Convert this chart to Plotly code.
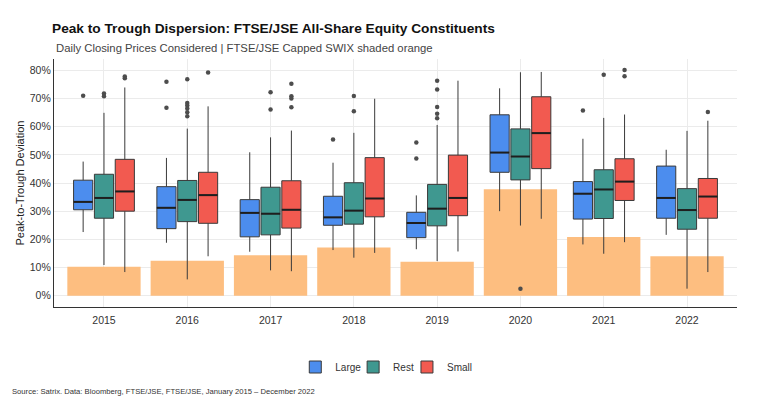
import plotly.graph_objects as go

years = [2015, 2016, 2017, 2018, 2019, 2020, 2021, 2022]
index_dispersion = [10.3, 12.4, 14.4, 17.1, 12.1, 37.8, 20.8, 14.0]

# Box statistics (percent)
large_q1 = [30.5, 23.8, 20.9, 25.0, 20.6, 43.8, 27.2, 27.5]
large_med = [33.3, 31.2, 29.4, 27.8, 25.8, 50.8, 36.2, 34.7]
large_q3 = [41.0, 38.7, 34.1, 35.3, 29.6, 64.2, 40.5, 46.0]
large_lo = [22.6, 18.8, 15.6, 16.2, 16.5, 30.0, 18.2, 21.6]
large_hi = [47.6, 48.9, 50.9, 47.2, 35.6, 73.6, 55.7, 51.8]
large_out_year = [2015, 2016, 2016, 2018, 2019, 2019, 2021]
large_out_val = [71.0, 75.9, 66.7, 55.4, 54.4, 48.7, 65.7]

rest_q1 = [27.5, 26.3, 21.6, 25.4, 24.8, 41.1, 27.4, 23.6]
rest_med = [34.7, 34.0, 29.1, 30.2, 30.9, 49.4, 37.7, 30.4]
rest_q3 = [43.1, 40.9, 38.5, 40.1, 39.5, 59.2, 44.7, 38.0]
rest_lo = [10.9, 5.8, 9.0, 13.5, 12.3, 24.9, 14.9, 2.5]
rest_hi = [64.9, 59.3, 56.2, 57.8, 60.6, 79.3, 63.1, 58.5]
rest_out_year = [2015, 2015, 2016, 2016, 2016, 2016, 2016, 2016, 2017, 2017,
                 2018, 2018, 2019, 2019, 2019, 2019, 2019, 2020, 2021]
rest_out_val = [71.8, 70.8, 76.8, 68.4, 67.5, 66.4, 65.1, 63.7, 72.2, 66.1,
                70.9, 65.5, 76.3, 73.2, 67.0, 64.6, 63.0, 2.5, 78.4]

small_q1 = [30.0, 25.7, 24.0, 28.0, 28.4, 45.1, 33.8, 27.5]
small_med = [37.0, 35.7, 30.5, 34.5, 34.7, 57.7, 40.5, 35.2]
small_q3 = [48.4, 43.8, 40.8, 49.0, 49.9, 70.6, 48.6, 41.6]
small_lo = [8.4, 14.0, 8.7, 15.2, 15.7, 27.3, 19.0, 8.4]
small_hi = [73.9, 67.2, 58.6, 69.9, 76.3, 79.4, 64.3, 62.1]
small_out_year = [2015, 2015, 2016, 2017, 2017, 2017, 2017, 2021, 2021, 2022]
small_out_val = [77.8, 77.2, 79.2, 75.2, 70.8, 70.0, 66.9, 80.1, 77.9, 65.2]

groups = [
    ("Large", -0.25, "#4C8DEE", "legend", large_q1, large_med, large_q3, large_lo, large_hi, large_out_year, large_out_val),
    ("Rest", 0.0, "#3F9890", "legend2", rest_q1, rest_med, rest_q3, rest_lo, rest_hi, rest_out_year, rest_out_val),
    ("Small", 0.25, "#F25A50", "legend3", small_q1, small_med, small_q3, small_lo, small_hi, small_out_year, small_out_val),
]

BOXW = 0.23
FONT = "Liberation Sans, Arial, sans-serif"
W, H = 772, 405
L, T, PW, PH = 44, 51, 685, 248

fig = go.Figure()

fig.add_trace(go.Bar(
    x=years, y=[v / 100 for v in index_dispersion], width=0.88,
    marker=dict(color="#FDBE80", line=dict(width=0)),
    showlegend=False, hoverinfo="skip",
))

for name, off, col, leg, q1, med, q3, lo, hi, oy, ov in groups:
    xs = [y + off for y in years]
    fig.add_trace(go.Box(
        name=name, x=xs,
        q1=[v / 100 for v in q1], median=[v / 100 for v in med], q3=[v / 100 for v in q3],
        lowerfence=[v / 100 for v in lo], upperfence=[v / 100 for v in hi],
        width=BOXW, whiskerwidth=0, boxpoints=False,
        fillcolor=col, line=dict(color="#3a3a3a", width=1),
        legend=leg,
    ))
    mx, my = [], []
    for x, m in zip(xs, med):
        mx += [x - BOXW / 2, x + BOXW / 2, None]
        my += [m / 100, m / 100, None]
    fig.add_trace(go.Scatter(
        x=mx, y=my, mode="lines", line=dict(color="#1e1e1e", width=2),
        showlegend=False, hoverinfo="skip",
    ))
    fig.add_trace(go.Scatter(
        x=[y + off for y in oy], y=[v / 100 for v in ov], mode="markers",
        marker=dict(color="#4d4d4d", size=4.5),
        showlegend=False,
    ))

# legend icon centres (screen px)
legend_icon_px = [314, 372, 426]
leg_common = dict(orientation="h", xanchor="left", y=-60 / PH, yanchor="middle",
                  font=dict(size=10, color="#333333"), itemwidth=30,
                  bgcolor="rgba(255,255,255,0)")

fig.update_layout(
    width=W, height=H,
    margin=dict(l=L, r=W - L - PW, t=T, b=H - T - PH),
    paper_bgcolor="white", plot_bgcolor="white",
    font=dict(family=FONT, color="#333333", size=11),
    boxmode="overlay", barmode="overlay",
    title=dict(
        text="<b>Peak to Trough Dispersion: FTSE/JSE All-Share Equity Constituents</b>",
        x=L / W, xanchor="left", y=1 - 20 / H, yanchor="middle", yref="container",
        font=dict(size=13.7, color="#111111", family=FONT),
    ),
    legend=dict(x=(legend_icon_px[0] - 20 - 52) / PW, **leg_common),
    legend2=dict(x=(legend_icon_px[1] - 20 - 52) / PW, **leg_common),
    legend3=dict(x=(legend_icon_px[2] - 20 - 52) / PW, **leg_common),
    showlegend=True,
)

fig.add_annotation(
    text="Daily Closing Prices Considered | FTSE/JSE Capped SWIX shaded orange",
    xref="paper", yref="paper", x=0, y=1 + 11 / PH, xanchor="left", yanchor="middle",
    showarrow=False, font=dict(size=11.3, color="#444444", family=FONT),
)
fig.add_annotation(
    text="Source: Satrix. Data: Bloomberg, FTSE/JSE, FTSE/JSE, January 2015 \u2013 December 2022",
    xref="paper", yref="paper", x=-44 / PW, y=-84 / PH, xanchor="left", yanchor="middle",
    showarrow=False, font=dict(size=7.65, color="#333333", family=FONT),
)

fig.update_xaxes(
    range=[2014.4, 2022.6], tickvals=years, ticktext=[str(y) for y in years],
    showgrid=True, gridcolor="#EBEBEB", gridwidth=1,
    showline=True, linecolor="#333333", linewidth=1.2,
    ticks="", ticklabelstandoff=3, tickfont=dict(size=10.5, color="#333333"), zeroline=False,
)
fig.update_yaxes(
    range=[-0.04, 0.84], tickvals=[i / 10 for i in range(9)], tickformat=".0%",
    showgrid=True, gridcolor="#EBEBEB", gridwidth=1,
    showline=True, linecolor="#333333", linewidth=1.2,
    ticks="", tickfont=dict(size=10.5, color="#333333"), zeroline=False,
    title=dict(text="Peak-to-Trough Deviation", font=dict(size=11, color="#222222"), standoff=2),
)

fig.write_html("out.html")
